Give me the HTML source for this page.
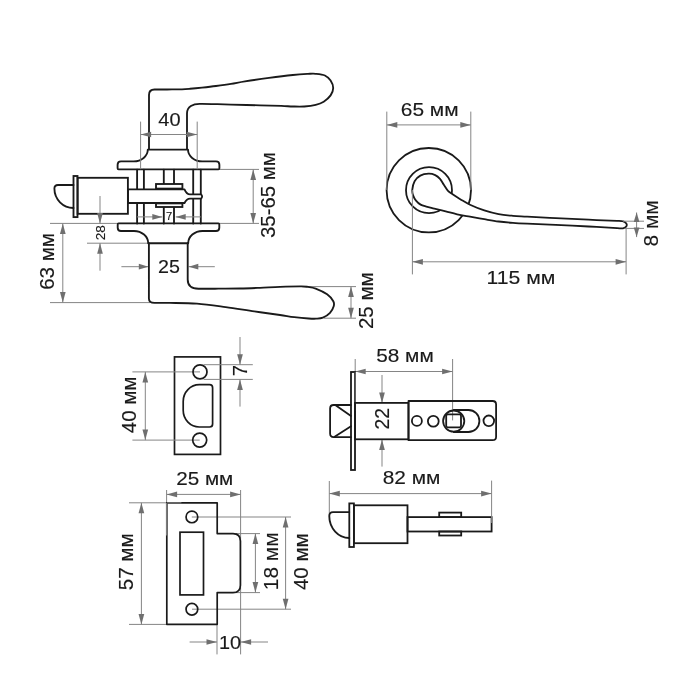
<!DOCTYPE html>
<html lang="ru">
<head>
<meta charset="utf-8">
<title>Размеры ручки</title>
<style>
html,body{margin:0;padding:0;background:#fff;}
body{width:700px;height:700px;overflow:hidden;}
svg{display:block;will-change:transform;}
svg text{font-family:"Liberation Sans",sans-serif;fill:#1a1a1a;stroke:#1a1a1a;stroke-width:0.14px;}
</style>
</head>
<body>
<svg width="700" height="700" viewBox="0 0 700 700">
<rect x="0" y="0" width="700" height="700" fill="#ffffff"/>
<g id="view-a">
<line x1="219.6" y1="169.4" x2="259" y2="169.4" stroke="#858585" stroke-width="1.0"/>
<line x1="50" y1="223.4" x2="259" y2="223.4" stroke="#858585" stroke-width="1.0"/>
<line x1="253.2" y1="169.4" x2="253.2" y2="223.4" stroke="#858585" stroke-width="1.0"/>
<polygon points="253.20,169.40 256.05,179.90 250.35,179.90" fill="#6f6f6f"/>
<polygon points="253.20,223.40 250.35,212.90 256.05,212.90" fill="#6f6f6f"/>
<line x1="87" y1="243.2" x2="149" y2="243.2" stroke="#858585" stroke-width="1.0"/>
<line x1="50" y1="302.6" x2="150" y2="302.6" stroke="#858585" stroke-width="1.0"/>
<line x1="62.8" y1="223.4" x2="62.8" y2="302.6" stroke="#858585" stroke-width="1.0"/>
<polygon points="62.80,223.40 65.65,233.90 59.95,233.90" fill="#6f6f6f"/>
<polygon points="62.80,302.60 59.95,292.10 65.65,292.10" fill="#6f6f6f"/>
<line x1="100" y1="270.7" x2="100" y2="243.2" stroke="#858585" stroke-width="1.0"/>
<polygon points="100.00,243.20 102.85,253.70 97.15,253.70" fill="#6f6f6f"/>
<line x1="121.4" y1="266.7" x2="148.4" y2="266.7" stroke="#858585" stroke-width="1.0"/>
<polygon points="148.40,266.70 138.80,269.55 138.80,263.85" fill="#6f6f6f"/>
<line x1="214.8" y1="266.7" x2="188.7" y2="266.7" stroke="#858585" stroke-width="1.0"/>
<polygon points="188.70,266.70 198.30,263.85 198.30,269.55" fill="#6f6f6f"/>
<line x1="302" y1="286.6" x2="356" y2="286.6" stroke="#858585" stroke-width="1.0"/>
<line x1="324" y1="318.2" x2="356" y2="318.2" stroke="#858585" stroke-width="1.0"/>
<line x1="351" y1="286.6" x2="351" y2="318.2" stroke="#858585" stroke-width="1.0"/>
<polygon points="351.00,286.60 353.85,297.10 348.15,297.10" fill="#6f6f6f"/>
<polygon points="351.00,318.20 348.15,307.70 353.85,307.70" fill="#6f6f6f"/>
<path d="M149,149.4 L149,95 Q149,89.5 154.5,89.5 L160,89.5 C162.00,89.49 168.33,89.48 172.00,89.45 C175.67,89.42 179.00,89.42 182.00,89.30 C185.00,89.18 186.67,89.03 190.00,88.75 C193.33,88.47 197.67,88.06 202.00,87.60 C206.33,87.14 211.17,86.62 216.00,86.00 C220.83,85.38 226.17,84.67 231.00,83.90 C235.83,83.13 238.67,82.40 245.00,81.40 C251.33,80.40 261.02,78.97 269.00,77.90 C276.98,76.83 286.40,75.67 292.90,75.00 C299.40,74.33 304.20,74.10 308.00,73.90 C311.80,73.70 312.88,73.53 315.70,73.80 C318.52,74.07 322.42,74.37 324.90,75.50 C327.38,76.63 329.22,78.52 330.60,80.60 C331.98,82.68 333.20,85.53 333.20,88.00 C333.20,90.47 332.18,93.12 330.60,95.40 C329.02,97.68 326.18,100.12 323.70,101.70 C321.22,103.28 318.93,104.10 315.70,104.90 C312.47,105.70 308.10,106.23 304.30,106.50 C300.50,106.77 296.72,106.60 292.90,106.50 C289.08,106.40 286.88,106.10 281.40,105.90 C275.92,105.70 268.40,105.52 260.00,105.30 C251.60,105.08 238.67,104.80 231.00,104.60 C223.33,104.40 219.17,104.22 214.00,104.10 C208.83,103.98 202.33,103.93 200.00,103.90 C193,103.8 187,106.5 187,113.5 L187,149.4" fill="none" stroke="#1a1a1a" stroke-width="1.85" stroke-linejoin="round" stroke-linecap="round" />
<path d="M147.8,149.6 L188,149.6 A14.2,11.8 0 0 0 202.2,161.4 L216,161.4 Q219.4,161.4 219.4,164.8 L219.4,168.3 Q219.4,169.3 218.4,169.3 L118.6,169.3 Q117.6,169.3 117.6,168.3 L117.6,164.8 Q117.6,161.4 121,161.4 L133.6,161.4 A14.2,11.8 0 0 0 147.8,149.6 Z" fill="#fff" stroke="#1a1a1a" stroke-width="1.85" stroke-linejoin="round" stroke-linecap="round" />
<path d="M117.7,224.4 Q117.7,223.4 118.7,223.4 L218.3,223.4 Q219.3,223.4 219.3,224.4 L219.3,227.7 Q219.3,231 216,231 L202.4,231 A14.2,12.2 0 0 0 188.2,243.2 L148.2,243.2 A14.2,12.2 0 0 0 134,231 L121,231 Q117.7,231 117.7,227.7 Z" fill="#fff" stroke="#1a1a1a" stroke-width="1.85" stroke-linejoin="round" stroke-linecap="round" />
<path d="M148.9,243.2 L148.9,298.4 Q148.9,302.9 154.5,302.9 C157.08,302.90 162.92,302.78 170.00,302.90 C177.08,303.02 187.72,302.90 197.00,303.60 C206.28,304.30 216.15,305.80 225.70,307.10 C235.25,308.40 245.25,310.08 254.30,311.40 C263.35,312.72 273.33,314.05 280.00,315.00 C286.67,315.95 289.53,316.52 294.30,317.10 C299.07,317.68 304.98,318.23 308.60,318.50 C312.22,318.77 313.62,318.83 316.00,318.70 C318.38,318.57 320.57,318.67 322.90,317.70 C325.23,316.73 328.20,314.80 330.00,312.90 C331.80,311.00 333.15,308.25 333.70,306.30 C334.25,304.35 334.40,303.20 333.30,301.20 C332.20,299.20 330.03,296.40 327.10,294.30 C324.17,292.20 318.88,289.83 315.70,288.60 C312.52,287.37 310.38,287.27 308.00,286.90 C305.62,286.53 306.07,286.42 301.40,286.40 C296.73,286.38 286.90,286.57 280.00,286.80 C273.10,287.03 266.67,287.52 260.00,287.80 C253.33,288.08 247.50,288.35 240.00,288.50 C232.50,288.65 221.92,288.67 215.00,288.70 C208.08,288.73 201.25,288.70 198.50,288.70 Q187.7,288.7 187.7,279.5 L187.7,243.2" fill="none" stroke="#1a1a1a" stroke-width="1.85" stroke-linejoin="round" stroke-linecap="round" />
<line x1="140.6" y1="121.6" x2="140.6" y2="169.2" stroke="#858585" stroke-width="1.0"/>
<line x1="197.2" y1="121.6" x2="197.2" y2="169.2" stroke="#858585" stroke-width="1.0"/>
<line x1="140.6" y1="134.5" x2="197.2" y2="134.5" stroke="#858585" stroke-width="1.0"/>
<polygon points="140.60,134.50 151.10,131.65 151.10,137.35" fill="#6f6f6f"/>
<polygon points="197.20,134.50 186.70,137.35 186.70,131.65" fill="#6f6f6f"/>
<path d="M137.1,169.6 L137.1,223.6" fill="none" stroke="#1a1a1a" stroke-width="1.85" stroke-linejoin="round" stroke-linecap="round" />
<path d="M143.9,169.6 L143.9,223.6" fill="none" stroke="#1a1a1a" stroke-width="1.85" stroke-linejoin="round" stroke-linecap="round" />
<path d="M193.2,169.6 L193.2,223.6" fill="none" stroke="#1a1a1a" stroke-width="1.85" stroke-linejoin="round" stroke-linecap="round" />
<path d="M200.8,169.6 L200.8,223.6" fill="none" stroke="#1a1a1a" stroke-width="1.85" stroke-linejoin="round" stroke-linecap="round" />
<path d="M163.8,169.6 L163.8,184" fill="none" stroke="#1a1a1a" stroke-width="1.85" stroke-linejoin="round" stroke-linecap="round" />
<path d="M163.8,207 L163.8,223.6" fill="none" stroke="#1a1a1a" stroke-width="1.85" stroke-linejoin="round" stroke-linecap="round" />
<path d="M174,169.6 L174,184" fill="none" stroke="#1a1a1a" stroke-width="1.85" stroke-linejoin="round" stroke-linecap="round" />
<path d="M174,207 L174,223.6" fill="none" stroke="#1a1a1a" stroke-width="1.85" stroke-linejoin="round" stroke-linecap="round" />
<rect x="156" y="184" width="26.40" height="4.60" rx="0" fill="#fff" stroke="#1a1a1a" stroke-width="1.85" stroke-linejoin="miter"/>
<rect x="156" y="203.4" width="26.40" height="3.60" rx="0" fill="#fff" stroke="#1a1a1a" stroke-width="1.85" stroke-linejoin="miter"/>
<path d="M128,189.4 L182.4,189.4 L184.5,189.4 C186,193 187,194.4 190,194.4 L201,194.4 Q203.2,196.5 201,198.6 L190,198.6 C187,198.6 186,200 184.5,203 L128,203 Z" fill="#fff" stroke="#1a1a1a" stroke-width="1.85" stroke-linejoin="round" stroke-linecap="round" />
<rect x="77.6" y="177.8" width="50.30" height="36.00" rx="0" fill="none" stroke="#1a1a1a" stroke-width="1.85" stroke-linejoin="miter"/>
<rect x="73.5" y="176" width="4.00" height="41.10" rx="0" fill="none" stroke="#1a1a1a" stroke-width="1.85" stroke-linejoin="miter"/>
<path d="M73.5,185 L58,185 Q54.4,185 54.4,188.6 A19.1,19.4 0 0 0 73.5,208" fill="none" stroke="#1a1a1a" stroke-width="1.85" stroke-linejoin="round" stroke-linecap="round" />
<line x1="100" y1="196" x2="100" y2="223.4" stroke="#858585" stroke-width="1.0"/>
<polygon points="100.00,223.40 97.15,212.90 102.85,212.90" fill="#6f6f6f"/>
<line x1="137" y1="216.9" x2="162.3" y2="216.9" stroke="#858585" stroke-width="1.0"/>
<polygon points="162.30,216.90 152.30,219.70 152.30,214.10" fill="#6f6f6f"/>
<line x1="200.8" y1="216.9" x2="175.7" y2="216.9" stroke="#858585" stroke-width="1.0"/>
<polygon points="175.70,216.90 185.70,214.10 185.70,219.70" fill="#6f6f6f"/>
<text transform="translate(158.35 126) scale(1.053 1)" font-size="19.0">40</text>
<text transform="translate(158.11 273.1) scale(1.037 1)" font-size="19.0">25</text>
<text transform="translate(166.01 220.1) scale(1.105 1)" font-size="10.2">7</text>
<text transform="translate(104.6 240.18) rotate(-90) scale(1.027 1)" font-size="13.2">28</text>
<text transform="translate(275.3 237.97) rotate(-90) scale(1.030 1)" font-size="19.8">35-65 мм</text>
<text transform="translate(54.0 289.83) rotate(-90) scale(1.039 1)" font-size="19.8">63 мм</text>
<text transform="translate(373.4 329.02) rotate(-90) scale(1.035 1)" font-size="19.8">25 мм</text>
</g>
<g id="view-b">
<line x1="386.8" y1="124.9" x2="470.8" y2="124.9" stroke="#858585" stroke-width="1.0"/>
<polygon points="386.80,124.90 397.30,122.05 397.30,127.75" fill="#6f6f6f"/>
<polygon points="470.80,124.90 460.30,127.75 460.30,122.05" fill="#6f6f6f"/>
<circle cx="428.8" cy="190.2" r="42.2" fill="none" stroke="#1a1a1a" stroke-width="1.8"/>
<line x1="386.8" y1="111.6" x2="386.8" y2="190" stroke="#858585" stroke-width="1.0"/>
<line x1="470.8" y1="111.6" x2="470.8" y2="190" stroke="#858585" stroke-width="1.0"/>
<circle cx="429" cy="190.2" r="23" fill="none" stroke="#1a1a1a" stroke-width="1.8"/>
<path d="M412.30,189.70 C412.55,187.33 413.27,183.55 414.60,181.20 C415.93,178.85 417.97,176.85 420.30,175.60 C422.63,174.35 426.12,173.78 428.60,173.70 C431.08,173.62 433.30,174.23 435.20,175.10 C437.10,175.97 438.53,177.23 440.00,178.90 C441.47,180.57 442.67,183.10 444.00,185.10 C445.33,187.10 446.57,189.37 448.00,190.90 C449.43,192.43 450.50,192.88 452.60,194.30 C454.70,195.72 457.70,197.67 460.60,199.40 C463.50,201.13 466.05,202.87 470.00,204.70 C473.95,206.53 479.53,208.83 484.30,210.40 C489.07,211.97 493.83,213.20 498.60,214.10 C503.37,215.00 508.15,215.38 512.90,215.80 C517.65,216.22 519.97,216.22 527.10,216.60 C534.23,216.98 545.45,217.58 555.70,218.10 C565.95,218.62 578.37,219.25 588.60,219.70 C598.83,220.15 611.33,220.52 617.10,220.80 C622.87,221.08 621.67,220.97 623.20,221.40 C624.73,221.83 625.77,222.60 626.30,223.40 C626.83,224.20 626.87,225.40 626.40,226.20 C625.93,227.00 625.05,227.87 623.50,228.20 C621.95,228.53 622.92,228.48 617.10,228.20 C611.28,227.92 598.83,227.07 588.60,226.50 C578.37,225.93 565.95,225.27 555.70,224.80 C545.45,224.33 534.23,224.02 527.10,223.70 C519.97,223.38 517.65,223.27 512.90,222.90 C508.15,222.53 503.37,222.12 498.60,221.50 C493.83,220.88 489.07,220.00 484.30,219.20 C479.53,218.40 474.53,217.52 470.00,216.70 C465.47,215.88 461.15,215.18 457.10,214.30 C453.05,213.42 449.50,212.35 445.70,211.40 C441.90,210.45 437.53,209.40 434.30,208.60 C431.07,207.80 428.58,207.27 426.30,206.60 C424.02,205.93 422.32,205.60 420.60,204.60 C418.88,203.60 417.25,202.13 416.00,200.60 C414.75,199.07 413.72,197.22 413.10,195.40 C412.48,193.58 412.05,192.07 412.30,189.70 Z" fill="#fff" stroke="#1a1a1a" stroke-width="1.8" stroke-linejoin="round" stroke-linecap="round" />
<line x1="412.4" y1="190" x2="412.4" y2="274.4" stroke="#858585" stroke-width="1.0"/>
<line x1="626.1" y1="229" x2="626.1" y2="274.4" stroke="#858585" stroke-width="1.0"/>
<line x1="412.4" y1="261.8" x2="626.1" y2="261.8" stroke="#858585" stroke-width="1.0"/>
<polygon points="412.40,261.80 422.90,258.95 422.90,264.65" fill="#6f6f6f"/>
<polygon points="626.10,261.80 615.60,264.65 615.60,258.95" fill="#6f6f6f"/>
<line x1="623" y1="221.2" x2="644" y2="221.2" stroke="#858585" stroke-width="1.0"/>
<line x1="625" y1="228.4" x2="644" y2="228.4" stroke="#858585" stroke-width="1.0"/>
<line x1="636.6" y1="212.5" x2="636.6" y2="237.1" stroke="#858585" stroke-width="1.0"/>
<polygon points="636.60,212.50 639.45,222.10 633.75,222.10" fill="#6f6f6f"/>
<polygon points="636.60,237.10 633.75,227.50 639.45,227.50" fill="#6f6f6f"/>
<text transform="translate(400.75 115.7) scale(1.102 1)" font-size="19.0">65 мм</text>
<text transform="translate(486.51 284.1) scale(1.116 1)" font-size="19.0">115 мм</text>
<text transform="translate(658.2 246.49) rotate(-90) scale(1.055 1)" font-size="19.8">8 мм</text>
</g>
<g id="view-c">
<rect x="174.5" y="356.9" width="46.00" height="97.50" rx="0" fill="none" stroke="#1a1a1a" stroke-width="1.7" stroke-linejoin="miter"/>
<line x1="132.4" y1="371.9" x2="200" y2="371.9" stroke="#858585" stroke-width="1.0"/>
<line x1="132.4" y1="440.1" x2="199.7" y2="440.1" stroke="#858585" stroke-width="1.0"/>
<line x1="145.3" y1="371.9" x2="145.3" y2="440.1" stroke="#858585" stroke-width="1.0"/>
<polygon points="145.30,371.90 148.15,382.40 142.45,382.40" fill="#6f6f6f"/>
<polygon points="145.30,440.10 142.45,429.60 148.15,429.60" fill="#6f6f6f"/>
<line x1="203.6" y1="364.7" x2="252.8" y2="364.7" stroke="#858585" stroke-width="1.0"/>
<line x1="203.6" y1="379.4" x2="252.8" y2="379.4" stroke="#858585" stroke-width="1.0"/>
<line x1="240" y1="337" x2="240" y2="364.7" stroke="#858585" stroke-width="1.0"/>
<polygon points="240.00,364.70 237.15,354.20 242.85,354.20" fill="#6f6f6f"/>
<line x1="240" y1="406.6" x2="240" y2="379.4" stroke="#858585" stroke-width="1.0"/>
<polygon points="240.00,379.40 242.85,389.90 237.15,389.90" fill="#6f6f6f"/>
<circle cx="200" cy="371.9" r="7.0" fill="none" stroke="#1a1a1a" stroke-width="1.7"/>
<circle cx="199.7" cy="440.1" r="7.0" fill="none" stroke="#1a1a1a" stroke-width="1.7"/>
<path d="M199.3,384.7 L209.6,384.7 Q212.6,384.7 212.6,387.7 L212.6,424 Q212.6,427 209.6,427 L199.3,427 A16.1,16.7 0 0 1 183.2,410.3 L183.2,401.4 A16.1,16.7 0 0 1 199.3,384.7 Z" fill="none" stroke="#1a1a1a" stroke-width="1.7" stroke-linejoin="round" stroke-linecap="round" />
<text transform="translate(136.2 433.26) rotate(-90) scale(1.036 1)" font-size="19.8">40 мм</text>
<text transform="translate(246.8 376.26) rotate(-90) scale(1.016 1)" font-size="19.8">7</text>
</g>
<g id="view-d">
<line x1="166.6" y1="490" x2="166.6" y2="503" stroke="#858585" stroke-width="1.0"/>
<line x1="240.6" y1="490" x2="240.6" y2="654.4" stroke="#858585" stroke-width="1.0"/>
<line x1="166.6" y1="494.4" x2="240.6" y2="494.4" stroke="#858585" stroke-width="1.0"/>
<polygon points="166.60,494.40 177.10,491.55 177.10,497.25" fill="#6f6f6f"/>
<polygon points="240.60,494.40 230.10,497.25 230.10,491.55" fill="#6f6f6f"/>
<line x1="129" y1="502.8" x2="167" y2="502.8" stroke="#858585" stroke-width="1.0"/>
<line x1="129" y1="624.4" x2="167" y2="624.4" stroke="#858585" stroke-width="1.0"/>
<line x1="141.4" y1="502.8" x2="141.4" y2="624.4" stroke="#858585" stroke-width="1.0"/>
<polygon points="141.40,502.80 144.25,513.30 138.55,513.30" fill="#6f6f6f"/>
<polygon points="141.40,624.40 138.55,613.90 144.25,613.90" fill="#6f6f6f"/>
<line x1="191.8" y1="517" x2="291" y2="517" stroke="#858585" stroke-width="1.0"/>
<line x1="192" y1="609.2" x2="291" y2="609.2" stroke="#858585" stroke-width="1.0"/>
<line x1="285.6" y1="517" x2="285.6" y2="609.2" stroke="#858585" stroke-width="1.0"/>
<polygon points="285.60,517.00 288.45,527.50 282.75,527.50" fill="#6f6f6f"/>
<polygon points="285.60,609.20 282.75,598.70 288.45,598.70" fill="#6f6f6f"/>
<line x1="236" y1="533.6" x2="260" y2="533.6" stroke="#858585" stroke-width="1.0"/>
<line x1="236" y1="592.6" x2="260" y2="592.6" stroke="#858585" stroke-width="1.0"/>
<line x1="255.4" y1="533.6" x2="255.4" y2="592.6" stroke="#858585" stroke-width="1.0"/>
<polygon points="255.40,533.60 258.25,544.10 252.55,544.10" fill="#6f6f6f"/>
<polygon points="255.40,592.60 252.55,582.10 258.25,582.10" fill="#6f6f6f"/>
<line x1="217" y1="624.4" x2="217" y2="654.4" stroke="#858585" stroke-width="1.0"/>
<line x1="189.6" y1="642" x2="217" y2="642" stroke="#858585" stroke-width="1.0"/>
<polygon points="217.00,642.00 206.50,644.85 206.50,639.15" fill="#6f6f6f"/>
<line x1="268" y1="642" x2="240.6" y2="642" stroke="#858585" stroke-width="1.0"/>
<polygon points="240.60,642.00 251.10,639.15 251.10,644.85" fill="#6f6f6f"/>
<path d="M166.8,502.8 L217.2,502.8 L217.2,533.6 L233,533.6 Q240.4,533.6 240.4,541 L240.4,585.2 Q240.4,592.6 233,592.6 L217.2,592.6 L217.2,624.3 L166.8,624.3 Z" fill="none" stroke="#1a1a1a" stroke-width="1.7" stroke-linejoin="round" stroke-linecap="round" stroke-linejoin="miter"/>
<line x1="166.6" y1="503" x2="166.6" y2="535.5" stroke="#858585" stroke-width="1.0"/>
<line x1="167" y1="502.8" x2="181.4" y2="502.8" stroke="#858585" stroke-width="1.0"/>
<circle cx="191.9" cy="516.9" r="5.85" fill="none" stroke="#1a1a1a" stroke-width="1.7"/>
<circle cx="191.9" cy="609.3" r="5.85" fill="none" stroke="#1a1a1a" stroke-width="1.7"/>
<rect x="180" y="532.2" width="23.50" height="62.70" rx="0" fill="none" stroke="#1a1a1a" stroke-width="1.7" stroke-linejoin="miter"/>
<text transform="translate(176.17 485.3) scale(1.088 1)" font-size="19.0">25 мм</text>
<text transform="translate(132.6 590.22) rotate(-90) scale(1.039 1)" font-size="19.8">57 мм</text>
<text transform="translate(277.8 590.27) rotate(-90) scale(1.058 1)" font-size="19.8">18 мм</text>
<text transform="translate(307.6 590.06) rotate(-90) scale(1.036 1)" font-size="19.8">40 мм</text>
<text transform="translate(219.01 648.5) scale(1.045 1)" font-size="19.0">10</text>
</g>
<g id="view-e">
<line x1="355.2" y1="359" x2="355.2" y2="372" stroke="#858585" stroke-width="1.0"/>
<line x1="452.6" y1="359" x2="452.6" y2="420.4" stroke="#858585" stroke-width="1.0"/>
<line x1="355.2" y1="371.5" x2="452.6" y2="371.5" stroke="#858585" stroke-width="1.0"/>
<polygon points="355.20,371.50 365.70,368.65 365.70,374.35" fill="#6f6f6f"/>
<polygon points="452.60,371.50 442.10,374.35 442.10,368.65" fill="#6f6f6f"/>
<line x1="382" y1="375" x2="382" y2="402.9" stroke="#858585" stroke-width="1.0"/>
<polygon points="382.00,402.90 379.15,392.40 384.85,392.40" fill="#6f6f6f"/>
<line x1="382" y1="466.6" x2="382" y2="439.4" stroke="#858585" stroke-width="1.0"/>
<polygon points="382.00,439.40 384.85,449.90 379.15,449.90" fill="#6f6f6f"/>
<path d="M351,405 L333.6,405 Q330.1,405 330.1,408.5 L330.1,433.6 Q330.1,437.1 333.6,437.1 L351,437.1" fill="none" stroke="#1a1a1a" stroke-width="1.8" stroke-linejoin="round" stroke-linecap="round" />
<path d="M335.6,405.3 L351,415.9 M334.6,436.8 L351,426.3" fill="none" stroke="#1a1a1a" stroke-width="1.8" stroke-linejoin="round" stroke-linecap="round" />
<rect x="351" y="372" width="4.00" height="98.00" rx="0" fill="none" stroke="#1a1a1a" stroke-width="1.8" stroke-linejoin="miter"/>
<line x1="355.2" y1="372" x2="355.2" y2="411" stroke="#858585" stroke-width="0.8"/>
<rect x="355" y="402.9" width="53.50" height="36.40" rx="0" fill="none" stroke="#1a1a1a" stroke-width="1.8" stroke-linejoin="miter"/>
<path d="M408.5,401 L492.6,401 Q496.1,401 496.1,404.5 L496.1,436.7 Q496.1,440.2 492.6,440.2 L408.5,440.2 Z" fill="none" stroke="#1a1a1a" stroke-width="1.8" stroke-linejoin="round" stroke-linecap="round" />
<circle cx="416.9" cy="420.9" r="5.0" fill="none" stroke="#1a1a1a" stroke-width="1.8"/>
<circle cx="433.3" cy="421.2" r="5.4" fill="none" stroke="#1a1a1a" stroke-width="1.8"/>
<circle cx="488.8" cy="420.8" r="5.3" fill="none" stroke="#1a1a1a" stroke-width="1.8"/>
<path d="M453.7,410 L468.4,410 A11,11 0 0 1 468.4,432 L453.7,432" fill="none" stroke="#1a1a1a" stroke-width="1.8" stroke-linejoin="round" stroke-linecap="round" />
<circle cx="453.7" cy="421.1" r="10.6" fill="none" stroke="#1a1a1a" stroke-width="1.8"/>
<rect x="446.2" y="414.4" width="14.80" height="12.90" rx="1.5" fill="none" stroke="#1a1a1a" stroke-width="1.8" stroke-linejoin="miter"/>
<text transform="translate(376.17 362.4) scale(1.096 1)" font-size="19.0">58 мм</text>
<text transform="translate(389.2 429.57) rotate(-90) scale(0.980 1)" font-size="19.8">22</text>
</g>
<g id="view-f">
<line x1="329.3" y1="481" x2="329.3" y2="520" stroke="#858585" stroke-width="1.0"/>
<line x1="329.3" y1="493.6" x2="491.6" y2="493.6" stroke="#858585" stroke-width="1.0"/>
<polygon points="329.30,493.60 339.80,490.75 339.80,496.45" fill="#6f6f6f"/>
<polygon points="491.60,493.60 481.10,496.45 481.10,490.75" fill="#6f6f6f"/>
<path d="M349.3,512.1 L333,512.1 Q329.3,512.1 329.3,516 A20,22 0 0 0 349.3,538" fill="none" stroke="#1a1a1a" stroke-width="1.8" stroke-linejoin="round" stroke-linecap="round" />
<rect x="349.3" y="503.4" width="4.60" height="43.60" rx="0" fill="none" stroke="#1a1a1a" stroke-width="1.8" stroke-linejoin="miter"/>
<rect x="353.9" y="505.3" width="53.60" height="37.90" rx="0" fill="none" stroke="#1a1a1a" stroke-width="1.8" stroke-linejoin="miter"/>
<rect x="407.5" y="517.1" width="84.10" height="14.40" rx="0" fill="none" stroke="#1a1a1a" stroke-width="1.8" stroke-linejoin="miter"/>
<rect x="439.2" y="512.6" width="22.00" height="4.50" rx="0" fill="none" stroke="#1a1a1a" stroke-width="1.8" stroke-linejoin="miter"/>
<rect x="439.2" y="531.5" width="22.00" height="4.00" rx="0" fill="none" stroke="#1a1a1a" stroke-width="1.8" stroke-linejoin="miter"/>
<line x1="491.6" y1="480.6" x2="491.6" y2="523" stroke="#858585" stroke-width="1.0"/>
<text transform="translate(382.71 484.4) scale(1.099 1)" font-size="19.0">82 мм</text>
</g>
</svg>
</body>
</html>
